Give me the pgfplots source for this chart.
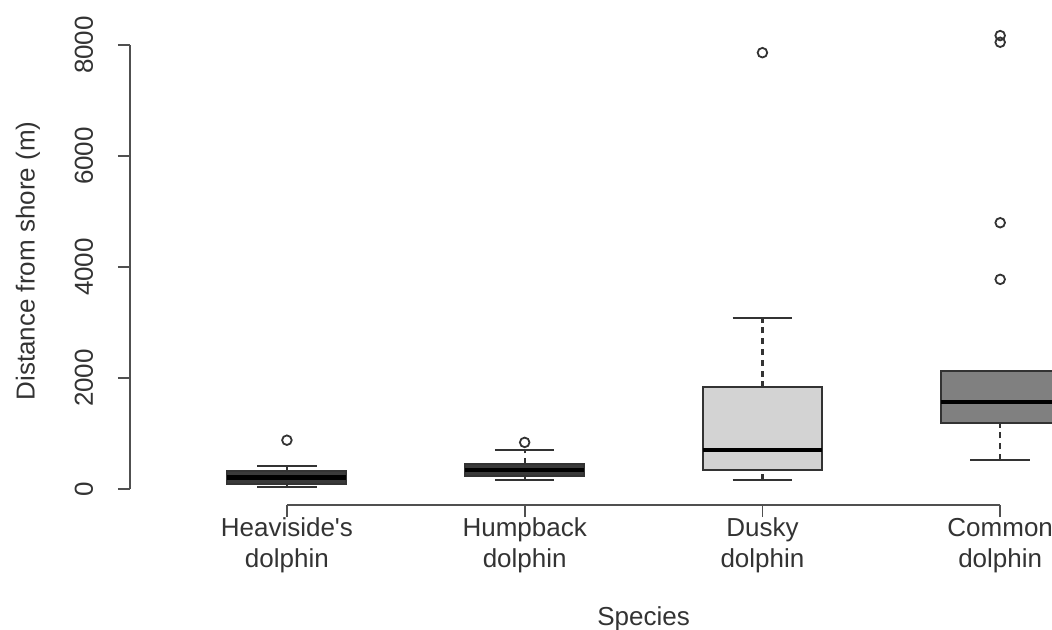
\documentclass[border=0pt]{standalone}
\usepackage{fontspec}
\setmainfont{Liberation Sans}
\usepackage{pgfplots}
\pgfplotsset{compat=1.18}

\definecolor{ink}{HTML}{333333}
\definecolor{axisgrey}{HTML}{505050}
\definecolor{darkbox}{HTML}{3A3A3A}
\definecolor{lightbox}{HTML}{D3D3D3}
\definecolor{midbox}{HTML}{808080}

\pgfplotsset{
  boxst/.style={draw=ink, line width=1pt, fill=#1, mark=none},
  medst/.style={draw=black, line width=2.2pt, mark=none, unbounded coords=jump},
  whisk/.style={draw=ink, line width=1.1pt, mark=none, dash pattern=on 3pt off 2.4pt, unbounded coords=jump},
  staple/.style={draw=ink, line width=1pt, mark=none, solid, unbounded coords=jump},
  outl/.style={only marks, mark=o, mark size=2.4pt,
    mark options={draw=ink, line width=0.9pt, solid}},
}

\begin{document}
\begin{tikzpicture}
\useasboundingbox (0,0) rectangle (526pt,314.5pt);
\begin{axis}[
  at={(65pt,62pt)}, anchor=south west,
  scale only axis, width=461pt, height=244pt,
  xmin=0.34, xmax=4.218, ymin=-288, ymax=8505,
  axis line style={draw=none},
  xtick pos=bottom, ytick pos=left,
  tick align=outside, major tick length=6pt,
  tick style={draw=axisgrey, line width=0.9pt},
  xtick={1,2,3,4},
  xticklabels={{Heaviside\textquotesingle s\\dolphin},{Humpback\\dolphin},{Dusky\\dolphin},{Common\\dolphin}},
  ytick={0,2000,4000,6000,8000},
  /pgf/number format/assume math mode=true,
  /pgf/number format/set thousands separator={},
  ticklabel style={font=\fontsize{13}{15.5}\selectfont, text=ink},
  xticklabel style={align=center, anchor=north, yshift=3pt},
  yticklabel style={rotate=90, anchor=base, yshift=12.5pt},
  ylabel={Distance from shore (m)},
  xlabel={Species},
  every axis y label/.style={at={(axis description cs:0,0.5)}, xshift=-51pt, rotate=90, anchor=center,
    font=\fontsize{13}{15.5}\selectfont, text=ink},
  every axis x label/.style={at={(axis description cs:0.557,0)}, anchor=base, yshift=-60pt,
    font=\fontsize{13}{15.5}\selectfont, text=ink},
]
% end points of the axis lines (R draws them only between the outer ticks)
\coordinate (ybot) at (axis cs:0.34,0);
\coordinate (ytop) at (axis cs:0.34,8000);
\coordinate (xlft) at (axis cs:1,-288);
\coordinate (xrgt) at (axis cs:4,-288);

% whisker stems: quartile to whisker
\addplot[whisk] coordinates {
  (1,41) (1,90) (1,nan) (1,330) (1,414) (1,nan)
  (2,162) (2,234) (2,nan) (2,450) (2,703) (2,nan)
  (3,162) (3,342) (3,nan) (3,1832) (3,3087) (3,nan)
  (4,522) (4,1183)
};
% staples at the whisker ends
\addplot[staple] coordinates {
  (0.875,41) (1.125,41) (1,nan) (0.875,414) (1.125,414) (1,nan)
  (1.875,162) (2.125,162) (2,nan) (1.875,703) (2.125,703) (2,nan)
  (2.875,162) (3.125,162) (3,nan) (2.875,3087) (3.125,3087) (3,nan)
  (3.875,522) (4.125,522)
};
% boxes: lower quartile to upper quartile
\addplot[boxst=darkbox] coordinates {(0.75,90) (1.25,90) (1.25,330) (0.75,330)} -- cycle;
\addplot[boxst=darkbox] coordinates {(1.75,234) (2.25,234) (2.25,450) (1.75,450)} -- cycle;
\addplot[boxst=lightbox] coordinates {(2.75,342) (3.25,342) (3.25,1832) (2.75,1832)} -- cycle;
\addplot[boxst=midbox] coordinates {(3.75,1183) (4.25,1183) (4.25,2132) (3.75,2132)} -- cycle;
% medians
\addplot[medst] coordinates {
  (0.75,210) (1.25,210) (1,nan)
  (1.75,342) (2.25,342) (2,nan)
  (2.75,703) (3.25,703) (3,nan)
  (3.75,1573) (4.25,1573)
};
% outliers
\addplot[outl] coordinates {
  (1,880) (2,840) (3,7862)
  (4,3778) (4,4798) (4,8050) (4,8170)
};
\end{axis}
\draw[axisgrey, line width=0.9pt] (ybot) -- (ytop);
\draw[axisgrey, line width=0.9pt] (xlft) -- (xrgt);
\end{tikzpicture}
\end{document}
